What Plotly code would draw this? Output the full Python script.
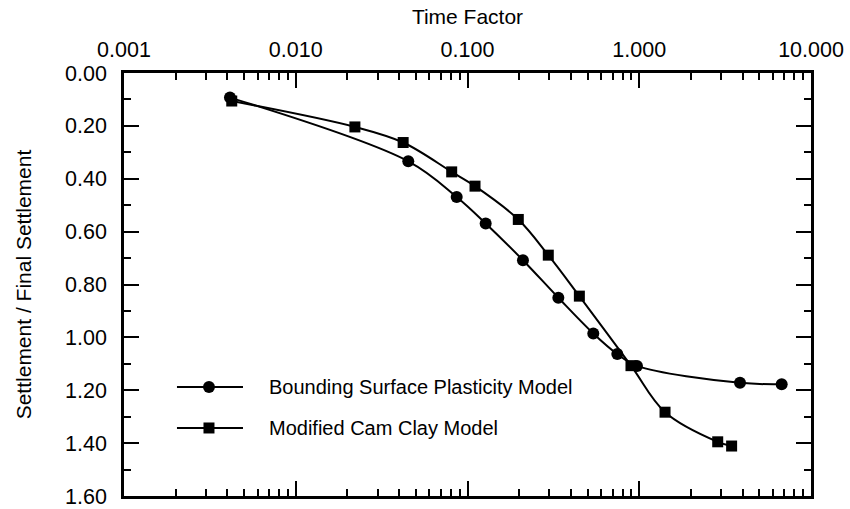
import plotly.graph_objects as go

# Data
bsp_time = [0.00414, 0.0452, 0.0865, 0.1276, 0.2103, 0.338, 0.540, 0.745, 0.970, 3.86, 6.75]
bsp_settle = [0.093, 0.334, 0.469, 0.569, 0.708, 0.850, 0.985, 1.063, 1.108, 1.172, 1.177]

mcc_time = [0.00424, 0.0221, 0.0422, 0.0809, 0.1106, 0.1976, 0.2954, 0.448, 0.895, 1.413, 2.863, 3.45]
mcc_settle = [0.106, 0.204, 0.263, 0.374, 0.428, 0.554, 0.689, 0.844, 1.107, 1.283, 1.395, 1.411]

x_tickvals = [0.001, 0.01, 0.1, 1, 10]
x_ticktext = ["0.001", "0.010", "0.100", "1.000", "10.000"]
x_minor = [m * 10 ** e for e in range(-3, 1) for m in range(2, 10)]
y_tickvals = [0.0, 0.2, 0.4, 0.6, 0.8, 1.0, 1.2, 1.4, 1.6]
y_minor = [0.1, 0.3, 0.5, 0.7, 0.9, 1.1, 1.3, 1.5]

series_names = ["Bounding Surface Plasticity Model", "Modified Cam Clay Model"]

FONT = "Arial, Liberation Sans, sans-serif"
BLACK = "#000000"

fig = go.Figure()

fig.add_trace(go.Scatter(
    x=bsp_time, y=bsp_settle, mode="lines+markers", name=series_names[0],
    line=dict(color=BLACK, width=2, shape="spline", smoothing=1),
    marker=dict(symbol="circle", size=12, color=BLACK),
    showlegend=False,
))
fig.add_trace(go.Scatter(
    x=mcc_time, y=mcc_settle, mode="lines+markers", name=series_names[1],
    line=dict(color=BLACK, width=2, shape="spline", smoothing=1),
    marker=dict(symbol="square", size=11, color=BLACK),
    showlegend=False,
))

# Hand-drawn legend on an overlay axis (0..1)
leg_x = [0.0771, 0.1732]
leg_mid = 0.1237
leg_rows = [0.2577, 0.1608]
symbols = ["circle", "square"]
sizes = [12, 11]
for row, sym, sz, name in zip(leg_rows, symbols, sizes, series_names):
    fig.add_trace(go.Scatter(
        x=leg_x, y=[row, row], mode="lines", xaxis="x2", yaxis="y2",
        line=dict(color=BLACK, width=2), showlegend=False, hoverinfo="skip",
    ))
    fig.add_trace(go.Scatter(
        x=[leg_mid], y=[row], mode="markers", xaxis="x2", yaxis="y2",
        marker=dict(symbol=sym, size=sz, color=BLACK), showlegend=False, hoverinfo="skip",
    ))
    fig.add_annotation(
        x=0.2082, y=row, xref="x2", yref="y2", text=name, showarrow=False,
        xanchor="left", yanchor="middle", font=dict(family=FONT, size=20, color=BLACK),
    )

fig.update_layout(
    width=850, height=509,
    margin=dict(l=124, r=39, t=73, b=13, autoexpand=False),
    paper_bgcolor="white", plot_bgcolor="white",
    font=dict(family=FONT, size=21.5, color=BLACK),
    showlegend=False,
    xaxis=dict(
        type="log", range=[-3, 1], side="top", automargin=False,
        tickvals=x_tickvals, ticktext=x_ticktext, ticklabeloverflow="allow",
        ticks="inside", ticklen=15, tickwidth=2, tickcolor=BLACK,
        minor=dict(tickvals=x_minor, ticks="inside", ticklen=7, tickwidth=2, tickcolor=BLACK, showgrid=False),
        showline=True, linewidth=2.5, linecolor=BLACK, mirror="ticks",
        showgrid=False, zeroline=False, ticklabelstandoff=5,
        title=dict(text="Time Factor", standoff=8, font=dict(size=21)),
    ),
    yaxis=dict(
        range=[1.6, 0], tickvals=y_tickvals, tickformat=".2f", automargin=False,
        ticklabeloverflow="allow",
        ticks="inside", ticklen=15, tickwidth=2, tickcolor=BLACK,
        minor=dict(tickvals=y_minor, ticks="inside", ticklen=7, tickwidth=2, tickcolor=BLACK, showgrid=False),
        showline=True, linewidth=2.5, linecolor=BLACK, mirror="ticks",
        showgrid=False, zeroline=False, ticklabelstandoff=10,
        title=dict(text="Settlement / Final Settlement", standoff=28, font=dict(size=21)),
    ),
    xaxis2=dict(range=[0, 1], overlaying="x", visible=False, anchor="y2", automargin=False),
    yaxis2=dict(range=[0, 1], overlaying="y", visible=False, anchor="x2", automargin=False),
)

# Remove the default page margin so the 850x509 figure fills the window exactly
fig.write_html(
    "out.html",
    config={"displayModeBar": False},
    post_script="document.body.style.margin='0px';",
)
